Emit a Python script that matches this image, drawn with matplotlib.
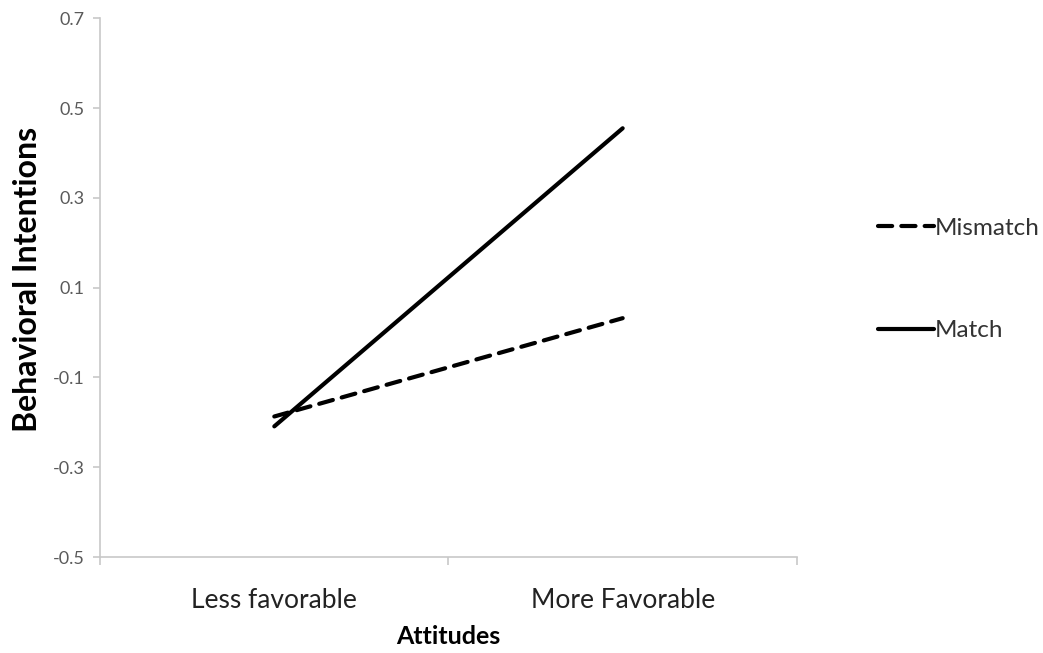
import matplotlib.pyplot as plt

# Data
categories = ['Less favorable', 'More Favorable']
mismatch = [-0.187, 0.032]
match = [-0.209, 0.455]
y_ticks = [-0.5, -0.3, -0.1, 0.1, 0.3, 0.5, 0.7]

plt.rcParams['font.family'] = ['Lato', 'DejaVu Sans']

fig = plt.figure(figsize=(10.43, 6.53), dpi=100)
ax = fig.add_axes([0.096, 0.147, 0.668, 0.825])

x = range(len(categories))
ax.plot(x, mismatch, color='black', lw=3, linestyle=(0, (3.4, 2.2)),
        dash_capstyle='round', solid_capstyle='round', label='Mismatch')
ax.plot(x, match, color='black', lw=3, solid_capstyle='round', label='Match')

ax.set_xlim(-0.5, 1.5)
ax.set_ylim(-0.5, 0.7)
ax.set_yticks(y_ticks)
ax.set_yticklabels([f'{v:.1f}' for v in y_ticks])
ax.set_xticks(list(x))
ax.set_xticklabels(categories)
ax.set_xticks([-0.5, 0.5, 1.5], minor=True)

for s in ['top', 'right']:
    ax.spines[s].set_visible(False)
for s in ['left', 'bottom']:
    ax.spines[s].set_color('#c8c8c8')
    ax.spines[s].set_linewidth(1.2)

ax.tick_params(axis='y', colors='#c8c8c8', labelcolor='#5a5a5a', labelsize=13, length=5, width=1.2, pad=6)
ax.tick_params(axis='x', which='major', length=0, labelsize=19, labelcolor='#222222', pad=22)
ax.tick_params(axis='x', which='minor', colors='#c8c8c8', length=6, width=1.2)

ax.set_ylabel('Behavioral Intentions', fontsize=23, fontweight='bold')
ax.yaxis.set_label_coords(-0.083, 0.515)
ax.set_xlabel('Attitudes', fontsize=18, fontweight='bold', labelpad=9)

leg = ax.legend(loc='upper left', bbox_to_anchor=(1.085, 0.67), frameon=False,
                fontsize=17.5, handlelength=2.3, handletextpad=0.05, labelspacing=3.35)
for t in leg.get_texts():
    t.set_color('#333333')

fig.savefig('out.png', dpi=100)
